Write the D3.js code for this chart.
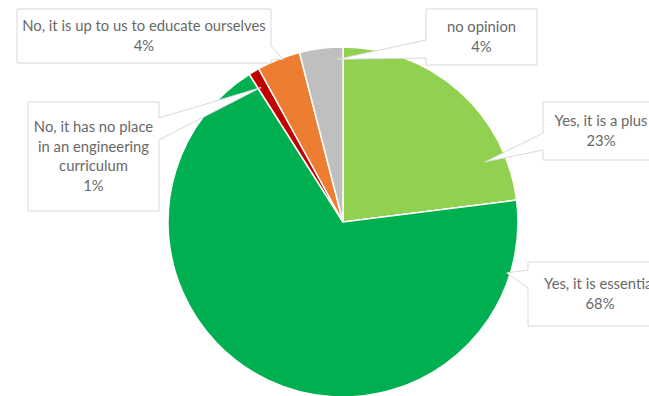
<!DOCTYPE html>
<html lang="en">
<head>
    <meta charset="UTF-8">
    <title>Pie chart</title>
    <script src="https://d3js.org/d3.v7.min.js"></script>
    <style>
        body { margin: 0; background: #fff; }
        .callout text { font-family: Lato, "Open Sans", sans-serif; font-size: 14.8px; fill: #686868; }
    </style>
</head>
<body>
    <svg id="chart" width="649" height="396"></svg>
    <script>
        // data, clockwise from 12 o'clock
        const labels = [
            ['Yes, it is a plus'],
            ['Yes, it is essential'],
            ['No, it has no place', 'in an engineering', 'curriculum'],
            ['No, it is up to us to educate ourselves'],
            ['no opinion']
        ];
        const values = [23, 68, 1, 4, 4];
        const colors = ['#92d050', '#00b050', '#c00000', '#ed7d31', '#bfbfbf'];

        // callout boxes: box, side the pointer leaves from, pointer base, where it lands in the slice
        const boxes = [
            { x: 543, y: 102, w: 116, h: 58, side: 'left', b1: 133, b2: 150, frac: 0.81, rf: 0.88 },
            { x: 528, y: 262, w: 144, h: 64, side: 'left', b1: 270, b2: 288, frac: 0.10, rf: 0.98 },
            { x: 28, y: 102, w: 131, h: 109, side: 'right', b1: 118, b2: 140, frac: 0.3, rf: 0.9 },
            { x: 17, y: 9, w: 254, h: 54, side: 'right', b1: 46, b2: 60, frac: 0.6, rf: 0.99 },
            { x: 426, y: 9, w: 111, h: 56, side: 'left', b1: 40, b2: 58, frac: 0.85, rf: 0.93 }
        ];

        const cx = 343, cy = 222, radius = 175;
        const svg = d3.select('#chart');
        const g = svg.append('g').attr('transform', `translate(${cx},${cy})`);

        const pie = d3.pie().sort(null).value(d => d)(values);
        const arc = d3.arc().innerRadius(0).outerRadius(radius);

        g.selectAll('path.slice')
            .data(pie)
            .enter().append('path')
            .attr('class', 'slice')
            .attr('d', arc)
            .attr('fill', (d, i) => colors[i])
            .attr('stroke', '#fff')
            .attr('stroke-width', 1.5);

        function calloutPath(b, tx, ty) {
            const x2 = b.x + b.w, y2 = b.y + b.h;
            if (b.side === 'left') {
                return `M${b.x},${b.y}L${x2},${b.y}L${x2},${y2}L${b.x},${y2}` +
                    `L${b.x},${b.b2}L${tx},${ty}L${b.x},${b.b1}Z`;
            }
            return `M${b.x},${b.y}L${x2},${b.y}L${x2},${b.b1}L${tx},${ty}L${x2},${b.b2}` +
                `L${x2},${y2}L${b.x},${y2}Z`;
        }

        const callouts = svg.selectAll('g.callout')
            .data(pie)
            .enter().append('g')
            .attr('class', 'callout');

        callouts.append('path')
            .attr('d', (d, i) => {
                const b = boxes[i];
                const a = d.startAngle + (d.endAngle - d.startAngle) * b.frac;
                const r = radius * b.rf;
                const tx = cx + r * Math.sin(a), ty = cy - r * Math.cos(a);
                return calloutPath(b, tx, ty);
            })
            .attr('fill', '#fff')
            .attr('stroke', '#d9d9d9')
            .attr('stroke-width', 1);

        callouts.each(function (d, i) {
            const b = boxes[i];
            const lines = labels[i].concat([d.value + '%']);
            const lh = 19.5;
            const top = b.y + b.h / 2 - (lines.length - 1) * lh / 2;
            const t = d3.select(this).append('text')
                .attr('text-anchor', 'middle');
            lines.forEach((s, k) => {
                t.append('tspan')
                    .attr('x', b.x + b.w / 2)
                    .attr('y', top + k * lh)
                    .attr('dy', '0.35em')
                    .text(s);
            });
        });
    </script>
</body>
</html>
